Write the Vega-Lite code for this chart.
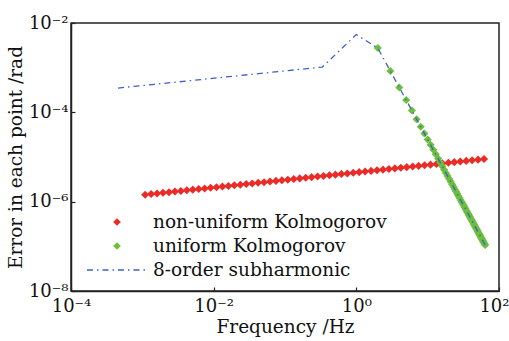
{
  "$schema": "https://vega.github.io/schema/vega-lite/v6.json",
  "width": 428,
  "height": 268,
  "autosize": {"type": "none"},
  "padding": {"left": 71, "top": 23, "right": 10, "bottom": 50},
  "background": "white",
  "config": {
    "view": {"stroke": "#222222", "strokeWidth": 1.5},
    "font": "DejaVu Serif",
    "axis": {
      "grid": false,
      "domainColor": "#222222",
      "domainWidth": 1.5,
      "tickColor": "#222222",
      "tickSize": -4,
      "tickWidth": 1.2,
      "labelFont": "DejaVu Serif",
      "labelFontSize": 18,
      "labelColor": "#111111",
      "titleFont": "DejaVu Serif",
      "titleFontSize": 18.5,
      "titleFontWeight": "normal",
      "titleColor": "#111111",
      "labelFlush": false,
      "labelOverlap": false
    }
  },
  "datasets": {
    "pts": [
      {"f": 0.001096, "err": 1.43e-6, "s": "non-uniform Kolmogorov"},
      {"f": 0.001328, "err": 1.48e-6, "s": "non-uniform Kolmogorov"},
      {"f": 0.001609, "err": 1.53e-6, "s": "non-uniform Kolmogorov"},
      {"f": 0.001950, "err": 1.58e-6, "s": "non-uniform Kolmogorov"},
      {"f": 0.002362, "err": 1.63e-6, "s": "non-uniform Kolmogorov"},
      {"f": 0.002862, "err": 1.69e-6, "s": "non-uniform Kolmogorov"},
      {"f": 0.003467, "err": 1.74e-6, "s": "non-uniform Kolmogorov"},
      {"f": 0.004201, "err": 1.80e-6, "s": "non-uniform Kolmogorov"},
      {"f": 0.005089, "err": 1.86e-6, "s": "non-uniform Kolmogorov"},
      {"f": 0.006166, "err": 1.92e-6, "s": "non-uniform Kolmogorov"},
      {"f": 0.007470, "err": 1.98e-6, "s": "non-uniform Kolmogorov"},
      {"f": 0.009050, "err": 2.05e-6, "s": "non-uniform Kolmogorov"},
      {"f": 0.01096, "err": 2.11e-6, "s": "non-uniform Kolmogorov"},
      {"f": 0.01328, "err": 2.18e-6, "s": "non-uniform Kolmogorov"},
      {"f": 0.01609, "err": 2.25e-6, "s": "non-uniform Kolmogorov"},
      {"f": 0.01950, "err": 2.33e-6, "s": "non-uniform Kolmogorov"},
      {"f": 0.02362, "err": 2.40e-6, "s": "non-uniform Kolmogorov"},
      {"f": 0.02862, "err": 2.48e-6, "s": "non-uniform Kolmogorov"},
      {"f": 0.03467, "err": 2.56e-6, "s": "non-uniform Kolmogorov"},
      {"f": 0.04201, "err": 2.65e-6, "s": "non-uniform Kolmogorov"},
      {"f": 0.05089, "err": 2.73e-6, "s": "non-uniform Kolmogorov"},
      {"f": 0.06166, "err": 2.82e-6, "s": "non-uniform Kolmogorov"},
      {"f": 0.07470, "err": 2.92e-6, "s": "non-uniform Kolmogorov"},
      {"f": 0.09050, "err": 3.01e-6, "s": "non-uniform Kolmogorov"},
      {"f": 0.1096, "err": 3.11e-6, "s": "non-uniform Kolmogorov"},
      {"f": 0.1328, "err": 3.21e-6, "s": "non-uniform Kolmogorov"},
      {"f": 0.1609, "err": 3.32e-6, "s": "non-uniform Kolmogorov"},
      {"f": 0.1950, "err": 3.43e-6, "s": "non-uniform Kolmogorov"},
      {"f": 0.2362, "err": 3.54e-6, "s": "non-uniform Kolmogorov"},
      {"f": 0.2862, "err": 3.65e-6, "s": "non-uniform Kolmogorov"},
      {"f": 0.3467, "err": 3.77e-6, "s": "non-uniform Kolmogorov"},
      {"f": 0.4201, "err": 3.90e-6, "s": "non-uniform Kolmogorov"},
      {"f": 0.5089, "err": 4.03e-6, "s": "non-uniform Kolmogorov"},
      {"f": 0.6166, "err": 4.16e-6, "s": "non-uniform Kolmogorov"},
      {"f": 0.7470, "err": 4.29e-6, "s": "non-uniform Kolmogorov"},
      {"f": 0.9050, "err": 4.43e-6, "s": "non-uniform Kolmogorov"},
      {"f": 1.096, "err": 4.58e-6, "s": "non-uniform Kolmogorov"},
      {"f": 1.328, "err": 4.73e-6, "s": "non-uniform Kolmogorov"},
      {"f": 1.609, "err": 4.89e-6, "s": "non-uniform Kolmogorov"},
      {"f": 1.950, "err": 5.05e-6, "s": "non-uniform Kolmogorov"},
      {"f": 2.362, "err": 5.21e-6, "s": "non-uniform Kolmogorov"},
      {"f": 2.862, "err": 5.38e-6, "s": "non-uniform Kolmogorov"},
      {"f": 3.467, "err": 5.56e-6, "s": "non-uniform Kolmogorov"},
      {"f": 4.201, "err": 5.74e-6, "s": "non-uniform Kolmogorov"},
      {"f": 5.089, "err": 5.93e-6, "s": "non-uniform Kolmogorov"},
      {"f": 6.166, "err": 6.12e-6, "s": "non-uniform Kolmogorov"},
      {"f": 7.470, "err": 6.32e-6, "s": "non-uniform Kolmogorov"},
      {"f": 9.050, "err": 6.53e-6, "s": "non-uniform Kolmogorov"},
      {"f": 10.96, "err": 6.74e-6, "s": "non-uniform Kolmogorov"},
      {"f": 13.28, "err": 6.96e-6, "s": "non-uniform Kolmogorov"},
      {"f": 16.09, "err": 7.19e-6, "s": "non-uniform Kolmogorov"},
      {"f": 19.50, "err": 7.43e-6, "s": "non-uniform Kolmogorov"},
      {"f": 23.62, "err": 7.67e-6, "s": "non-uniform Kolmogorov"},
      {"f": 28.62, "err": 7.92e-6, "s": "non-uniform Kolmogorov"},
      {"f": 34.67, "err": 8.18e-6, "s": "non-uniform Kolmogorov"},
      {"f": 42.01, "err": 8.45e-6, "s": "non-uniform Kolmogorov"},
      {"f": 50.89, "err": 8.73e-6, "s": "non-uniform Kolmogorov"},
      {"f": 61.66, "err": 9.01e-6, "s": "non-uniform Kolmogorov"},
      {"f": 2, "err": 2.75e-3, "s": "uniform Kolmogorov"},
      {"f": 3, "err": 8.39e-4, "s": "uniform Kolmogorov"},
      {"f": 4, "err": 3.61e-4, "s": "uniform Kolmogorov"},
      {"f": 5, "err": 1.88e-4, "s": "uniform Kolmogorov"},
      {"f": 6, "err": 1.10e-4, "s": "uniform Kolmogorov"},
      {"f": 7, "err": 7.02e-5, "s": "uniform Kolmogorov"},
      {"f": 8, "err": 4.74e-5, "s": "uniform Kolmogorov"},
      {"f": 9, "err": 3.36e-5, "s": "uniform Kolmogorov"},
      {"f": 10, "err": 2.47e-5, "s": "uniform Kolmogorov"},
      {"f": 11, "err": 1.87e-5, "s": "uniform Kolmogorov"},
      {"f": 12, "err": 1.45e-5, "s": "uniform Kolmogorov"},
      {"f": 13, "err": 1.15e-5, "s": "uniform Kolmogorov"},
      {"f": 14, "err": 9.21e-6, "s": "uniform Kolmogorov"},
      {"f": 15, "err": 7.52e-6, "s": "uniform Kolmogorov"},
      {"f": 16, "err": 6.22e-6, "s": "uniform Kolmogorov"},
      {"f": 17, "err": 5.21e-6, "s": "uniform Kolmogorov"},
      {"f": 18, "err": 4.41e-6, "s": "uniform Kolmogorov"},
      {"f": 19, "err": 3.76e-6, "s": "uniform Kolmogorov"},
      {"f": 20, "err": 3.24e-6, "s": "uniform Kolmogorov"},
      {"f": 21, "err": 2.81e-6, "s": "uniform Kolmogorov"},
      {"f": 22, "err": 2.45e-6, "s": "uniform Kolmogorov"},
      {"f": 23, "err": 2.15e-6, "s": "uniform Kolmogorov"},
      {"f": 24, "err": 1.90e-6, "s": "uniform Kolmogorov"},
      {"f": 25, "err": 1.68e-6, "s": "uniform Kolmogorov"},
      {"f": 26, "err": 1.50e-6, "s": "uniform Kolmogorov"},
      {"f": 27, "err": 1.34e-6, "s": "uniform Kolmogorov"},
      {"f": 28, "err": 1.21e-6, "s": "uniform Kolmogorov"},
      {"f": 29, "err": 1.09e-6, "s": "uniform Kolmogorov"},
      {"f": 30, "err": 9.86e-7, "s": "uniform Kolmogorov"},
      {"f": 31, "err": 8.96e-7, "s": "uniform Kolmogorov"},
      {"f": 32, "err": 8.17e-7, "s": "uniform Kolmogorov"},
      {"f": 33, "err": 7.46e-7, "s": "uniform Kolmogorov"},
      {"f": 34, "err": 6.84e-7, "s": "uniform Kolmogorov"},
      {"f": 35, "err": 6.28e-7, "s": "uniform Kolmogorov"},
      {"f": 36, "err": 5.78e-7, "s": "uniform Kolmogorov"},
      {"f": 37, "err": 5.34e-7, "s": "uniform Kolmogorov"},
      {"f": 38, "err": 4.94e-7, "s": "uniform Kolmogorov"},
      {"f": 39, "err": 4.57e-7, "s": "uniform Kolmogorov"},
      {"f": 40, "err": 4.25e-7, "s": "uniform Kolmogorov"},
      {"f": 41, "err": 3.95e-7, "s": "uniform Kolmogorov"},
      {"f": 42, "err": 3.68e-7, "s": "uniform Kolmogorov"},
      {"f": 43, "err": 3.44e-7, "s": "uniform Kolmogorov"},
      {"f": 44, "err": 3.21e-7, "s": "uniform Kolmogorov"},
      {"f": 45, "err": 3.01e-7, "s": "uniform Kolmogorov"},
      {"f": 46, "err": 2.82e-7, "s": "uniform Kolmogorov"},
      {"f": 47, "err": 2.64e-7, "s": "uniform Kolmogorov"},
      {"f": 48, "err": 2.49e-7, "s": "uniform Kolmogorov"},
      {"f": 49, "err": 2.34e-7, "s": "uniform Kolmogorov"},
      {"f": 50, "err": 2.21e-7, "s": "uniform Kolmogorov"},
      {"f": 51, "err": 2.08e-7, "s": "uniform Kolmogorov"},
      {"f": 52, "err": 1.97e-7, "s": "uniform Kolmogorov"},
      {"f": 53, "err": 1.86e-7, "s": "uniform Kolmogorov"},
      {"f": 54, "err": 1.76e-7, "s": "uniform Kolmogorov"},
      {"f": 55, "err": 1.67e-7, "s": "uniform Kolmogorov"},
      {"f": 56, "err": 1.58e-7, "s": "uniform Kolmogorov"},
      {"f": 57, "err": 1.50e-7, "s": "uniform Kolmogorov"},
      {"f": 58, "err": 1.43e-7, "s": "uniform Kolmogorov"},
      {"f": 59, "err": 1.36e-7, "s": "uniform Kolmogorov"},
      {"f": 60, "err": 1.29e-7, "s": "uniform Kolmogorov"},
      {"f": 61, "err": 1.23e-7, "s": "uniform Kolmogorov"},
      {"f": 62, "err": 1.17e-7, "s": "uniform Kolmogorov"},
      {"f": 63, "err": 1.12e-7, "s": "uniform Kolmogorov"},
      {"f": 64, "err": 1.07e-7, "s": "uniform Kolmogorov"}
    ],
    "sub": [
      {"f": 0.000457, "err": 3.50e-4, "s": "8-order subharmonic"},
      {"f": 0.00137, "err": 4.19e-4, "s": "8-order subharmonic"},
      {"f": 0.00412, "err": 5.01e-4, "s": "8-order subharmonic"},
      {"f": 0.0123, "err": 6.00e-4, "s": "8-order subharmonic"},
      {"f": 0.0370, "err": 7.19e-4, "s": "8-order subharmonic"},
      {"f": 0.111, "err": 8.61e-4, "s": "8-order subharmonic"},
      {"f": 0.333, "err": 1.03e-3, "s": "8-order subharmonic"},
      {"f": 1, "err": 5.5e-3, "s": "8-order subharmonic"},
      {"f": 2, "err": 2.75e-3, "s": "8-order subharmonic"},
      {"f": 4, "err": 3.61e-4, "s": "8-order subharmonic"},
      {"f": 8, "err": 4.74e-5, "s": "8-order subharmonic"},
      {"f": 16, "err": 6.22e-6, "s": "8-order subharmonic"},
      {"f": 32, "err": 8.17e-7, "s": "8-order subharmonic"},
      {"f": 64, "err": 1.07e-7, "s": "8-order subharmonic"}
    ]
  },
  "encoding": {
    "x": {
      "field": "f", "type": "quantitative",
      "scale": {"type": "log", "domain": [0.0001, 100], "nice": false},
      "axis": {
        "title": "Frequency /Hz",
        "values": [0.0001, 0.01, 1, 100],
        "labelExpr": "round(log(datum.value)/LN10) == -4 ? '10⁻⁴' : round(log(datum.value)/LN10) == -2 ? '10⁻²' : round(log(datum.value)/LN10) == 0 ? '10⁰' : '10²'",
        "labelPadding": 10,
        "titlePadding": 2,
        "labelAlign": {"condition": {"test": "datum.value > 50", "value": "right"}, "value": "center"},
        "labelOffset": {"condition": {"test": "datum.value > 50", "value": 10}, "value": 0}
      }
    },
    "y": {
      "field": "err", "type": "quantitative",
      "scale": {"type": "log", "domain": [1e-8, 0.01], "nice": false},
      "axis": {
        "title": "Error in each point /rad",
        "values": [1e-8, 1e-6, 1e-4, 0.01],
        "labelExpr": "round(log(datum.value)/LN10) == -8 ? '10⁻⁸' : round(log(datum.value)/LN10) == -6 ? '10⁻⁶' : round(log(datum.value)/LN10) == -4 ? '10⁻⁴' : '10⁻²'",
        "labelPadding": 7,
        "titlePadding": 3
      }
    },
    "color": {
      "field": "s", "type": "nominal",
      "scale": {
        "domain": ["non-uniform Kolmogorov", "uniform Kolmogorov", "8-order subharmonic"],
        "range": ["#ec2a26", "#6cbf3c", "#3a62c4"]
      },
      "legend": {
        "title": null,
        "orient": "none",
        "legendX": 14,
        "legendY": 188,
        "padding": 0,
        "labelFont": "DejaVu Serif",
        "labelFontSize": 18.5,
        "labelColor": "#111111",
        "labelLimit": 400,
        "clipHeight": 22,
        "rowPadding": 2,
        "labelOffset": 26.75,
        "symbolOffset": 22.75,
        "symbolSize": 60,
        "encode": {
          "symbols": {
            "update": {
              "shape": {"signal": "datum.value === '8-order subharmonic' ? 'M-7.75,0L7.75,0' : 'diamond'"},
              "strokeWidth": {"signal": "datum.value === '8-order subharmonic' ? 1.5 : 0"},
              "strokeDash": {"signal": "datum.value === '8-order subharmonic' ? [6, 4, 1.5, 4] : [1, 0]"},
              "fill": {"signal": "datum.value === '8-order subharmonic' ? 'transparent' : scale('color', datum.value)"},
              "stroke": {"signal": "datum.value === '8-order subharmonic' ? scale('color', datum.value) : 'transparent'"},
              "opacity": {"value": 1}
            }
          }
        }
      }
    }
  },
  "layer": [
    {
      "data": {"name": "pts"},
      "mark": {"type": "point", "shape": "diamond", "filled": true, "size": 65, "opacity": 1}
    },
    {
      "data": {"name": "sub"},
      "mark": {"type": "line", "strokeDash": [6, 4, 1.5, 4], "strokeWidth": 1.3}
    }
  ]
}
